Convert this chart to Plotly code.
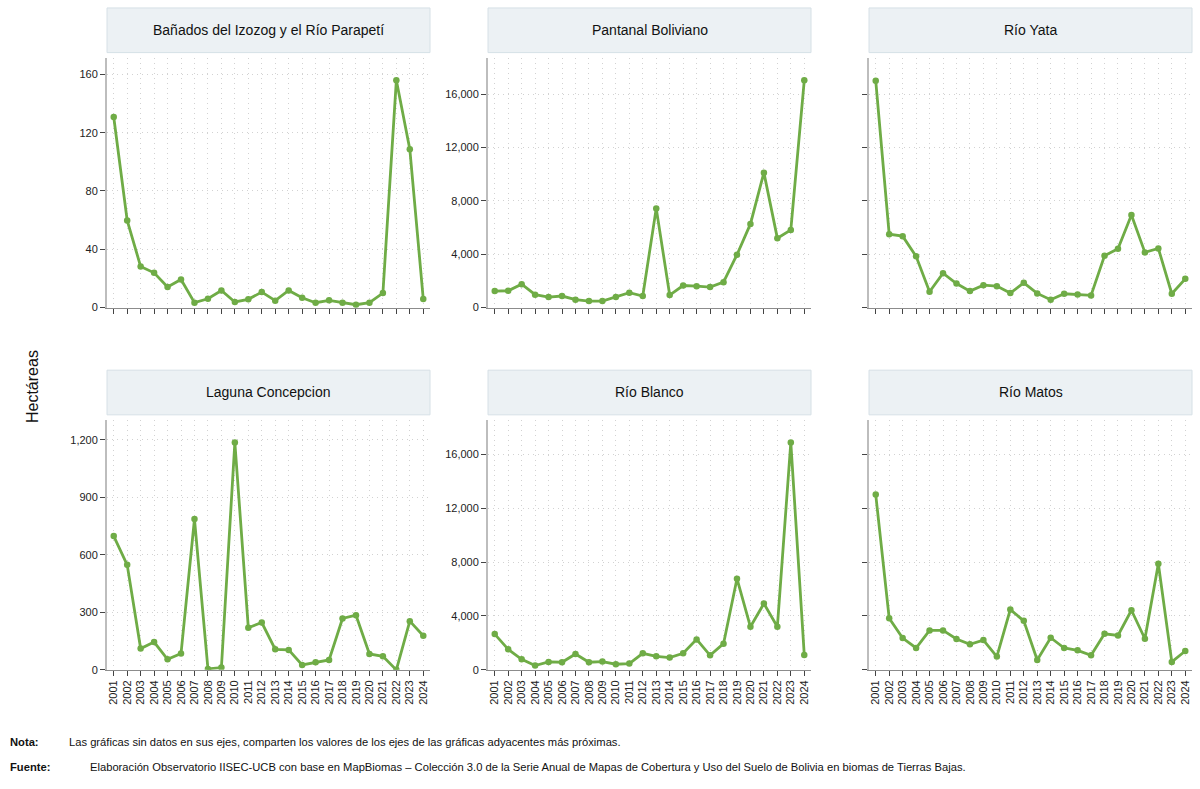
import plotly.graph_objects as go

years = list(range(2001, 2025))
year_labels = [str(y) for y in years]

panel_titles = ["Bañados del Izozog y el Río Parapetí", "Pantanal Boliviano", "Río Yata",
                "Laguna Concepcion", "Río Blanco", "Río Matos"]

banados = [130.7, 59.8, 28.2, 23.9, 14.1, 19.3, 3.4, 6.1, 11.8, 3.9, 5.7, 10.7,
           4.8, 11.8, 6.8, 3.4, 5.0, 3.4, 2.0, 3.4, 10.0, 155.9, 108.7, 5.9]
pantanal = [1240, 1265, 1760, 970, 794, 870, 595, 496, 496, 794, 1116, 870,
            7440, 943, 1660, 1610, 1540, 1910, 3970, 6277, 10122, 5210, 5830, 17045]
yata = [17020, 5508, 5359, 3846, 1191, 2580, 1811, 1240, 1687, 1613, 1092, 1861,
        1067, 595, 1042, 992, 918, 3895, 4416, 6947, 4143, 4441, 1042, 2158]
laguna = [698, 548, 111, 145, 55, 85, 787, 5, 12, 1186, 220, 247,
          107, 104, 26, 40, 52, 268, 285, 83, 71, 0, 254, 178]
blanco = [2655, 1524, 787, 320, 590, 565, 1180, 565, 615, 418, 467, 1229,
          1008, 909, 1229, 2261, 1081, 1942, 6760, 3195, 4916, 3195, 16862, 1106]
matos = [13003, 3835, 2360, 1622, 2925, 2925, 2286, 1893, 2212, 983, 4473, 3638,
         737, 2384, 1622, 1450, 1081, 2679, 2556, 4424, 2310, 7866, 590, 1401]

series = [banados, pantanal, yata, laguna, blanco, matos]
y_dticks = [40, 4000, 4000, 300, 4000, 4000]
# panels sharing one y scale
scale_groups = [[0], [1, 2], [1, 2], [3], [4, 5], [4, 5]]

nota_label = "Nota:"
nota_text = "Las gráficas sin datos en sus ejes, comparten los valores de los ejes de las gráficas adyacentes más próximas."
fuente_label = "Fuente:"
fuente_text = ("Elaboración Observatorio IISEC-UCB con base en MapBiomas – Colección 3.0 de la Serie Anual "
               "de Mapas de Cobertura y Uso del Suelo de Bolivia en biomas de Tierras Bajas.")
y_title = "Hectáreas"

W, H = 1200, 789
FONT = "Liberation Sans, Arial, sans-serif"
GREEN = "#6fac46"
GRID = "#d2d2d2"

col_px = [(107, 430), (488, 811), (869, 1192)]
row_px = [(58, 310), (423, 675)]
strip_px = [(8, 53), (373, 418)]

fig = go.Figure()

for i in range(6):
    r, c = divmod(i, 3)
    ax = "" if i == 0 else str(i + 1)
    x0, x1 = col_px[c]
    yt, yb = row_px[r]
    ymax = max(max(series[j]) for j in scale_groups[i]) * 1.1

    fig.add_trace(go.Scatter(
        x=years, y=series[i], mode="lines+markers",
        line=dict(color=GREEN, width=2.8),
        marker=dict(color=GREEN, size=6.5),
        xaxis="x" + ax, yaxis="y" + ax, showlegend=False,
    ))

    fig.layout["xaxis" + ax] = dict(
        domain=[x0 / W, x1 / W], anchor="y" + ax,
        range=[2000.5, 2024.5], tickmode="array", tickvals=years, ticktext=year_labels,
        showticklabels=(r == 1), tickangle=-90,
        ticks="outside", ticklen=5, tickcolor="#444", tickwidth=1,
        showline=True, linecolor="#8c8c8c", linewidth=1,
        showgrid=True, gridcolor=GRID, griddash="1px,4px", gridwidth=1,
        zeroline=False, tickfont=dict(size=11, color="#222", family=FONT),
    )
    fig.layout["yaxis" + ax] = dict(
        domain=[1 - yb / H, 1 - yt / H], anchor="x" + ax,
        range=[0, ymax], dtick=y_dticks[i], tick0=0, tickformat=",d",
        showticklabels=(c != 2),
        ticks="outside", ticklen=5, tickcolor="#444", tickwidth=1,
        showline=True, linecolor="#bdbdbd", linewidth=2,
        showgrid=True, gridcolor=GRID, griddash="1px,4px", gridwidth=1,
        zeroline=False, tickfont=dict(size=11, color="#222", family=FONT),
    )

    sy0, sy1 = strip_px[r]
    fig.add_shape(type="rect", xref="paper", yref="paper",
                  x0=x0 / W, x1=x1 / W, y0=1 - sy1 / H, y1=1 - sy0 / H,
                  fillcolor="#ecf1f4", line=dict(color="#d6e0e6", width=1), layer="below")
    fig.add_annotation(xref="paper", yref="paper", x=(x0 + x1) / 2 / W, y=1 - (sy0 + sy1) / 2 / H,
                       text=panel_titles[i], showarrow=False, xanchor="center", yanchor="middle",
                       font=dict(size=14, color="#111", family=FONT))

fig.add_annotation(xref="paper", yref="paper", x=32 / W, y=1 - 390 / H, text=y_title,
                   textangle=-90, showarrow=False, xanchor="center", yanchor="middle",
                   font=dict(size=16, color="#111", family=FONT))

FOOT = 11.2
fig.add_annotation(xref="paper", yref="paper", x=8 / W, y=1 - 748 / H, text="<b>" + nota_label + "</b>",
                   showarrow=False, xanchor="left", yanchor="middle", font=dict(size=FOOT, color="#111", family=FONT))
fig.add_annotation(xref="paper", yref="paper", x=67 / W, y=1 - 748 / H, text=nota_text,
                   showarrow=False, xanchor="left", yanchor="middle", font=dict(size=FOOT, color="#111", family=FONT))
fig.add_annotation(xref="paper", yref="paper", x=8 / W, y=1 - 773 / H, text="<b>" + fuente_label + "</b>",
                   showarrow=False, xanchor="left", yanchor="middle", font=dict(size=FOOT, color="#111", family=FONT))
fig.add_annotation(xref="paper", yref="paper", x=88 / W, y=1 - 773 / H, text=fuente_text,
                   showarrow=False, xanchor="left", yanchor="middle", font=dict(size=FOOT, color="#111", family=FONT))

fig.update_layout(width=W, height=H, margin=dict(l=0, r=0, t=0, b=0),
                  paper_bgcolor="white", plot_bgcolor="white",
                  font=dict(family=FONT, color="#111"))

fig.write_html("out.html")
